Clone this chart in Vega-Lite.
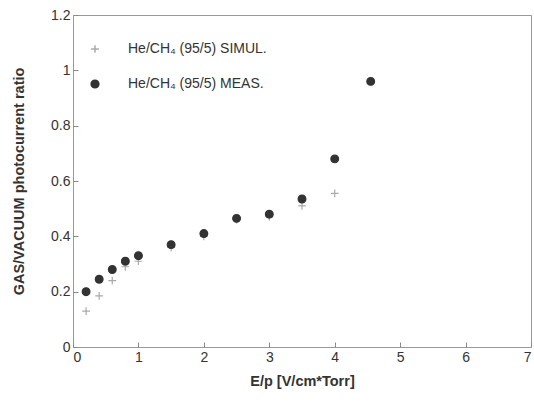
{
  "$schema": "https://vega.github.io/schema/vega-lite/v6.json",
  "width": 458,
  "height": 332,
  "autosize": {"type": "none"},
  "padding": {"left": 73, "top": 15, "right": 3, "bottom": 56},
  "background": "white",
  "config": {
    "font": "Liberation Sans",
    "view": {"stroke": "#999", "strokeWidth": 1},
    "axis": {
      "grid": false,
      "domain": false,
      "tickColor": "#888",
      "tickSize": -5,
      "labelColor": "#333",
      "labelFontSize": 14,
      "titleColor": "#333",
      "titleFontSize": 14.5,
      "titleFontWeight": "bold"
    }
  },
  "data": {
    "values": [
      {"E": 0.2, "ratio": 0.13, "series": "He/CH₄ (95/5) SIMUL."},
      {"E": 0.4, "ratio": 0.185, "series": "He/CH₄ (95/5) SIMUL."},
      {"E": 0.6, "ratio": 0.24, "series": "He/CH₄ (95/5) SIMUL."},
      {"E": 0.8, "ratio": 0.29, "series": "He/CH₄ (95/5) SIMUL."},
      {"E": 1.0, "ratio": 0.31, "series": "He/CH₄ (95/5) SIMUL."},
      {"E": 1.5, "ratio": 0.36, "series": "He/CH₄ (95/5) SIMUL."},
      {"E": 2.0, "ratio": 0.40, "series": "He/CH₄ (95/5) SIMUL."},
      {"E": 2.5, "ratio": 0.46, "series": "He/CH₄ (95/5) SIMUL."},
      {"E": 3.0, "ratio": 0.47, "series": "He/CH₄ (95/5) SIMUL."},
      {"E": 3.5, "ratio": 0.51, "series": "He/CH₄ (95/5) SIMUL."},
      {"E": 4.0, "ratio": 0.555, "series": "He/CH₄ (95/5) SIMUL."},
      {"E": 0.2, "ratio": 0.20, "series": "He/CH₄ (95/5) MEAS."},
      {"E": 0.4, "ratio": 0.245, "series": "He/CH₄ (95/5) MEAS."},
      {"E": 0.6, "ratio": 0.28, "series": "He/CH₄ (95/5) MEAS."},
      {"E": 0.8, "ratio": 0.31, "series": "He/CH₄ (95/5) MEAS."},
      {"E": 1.0, "ratio": 0.33, "series": "He/CH₄ (95/5) MEAS."},
      {"E": 1.5, "ratio": 0.37, "series": "He/CH₄ (95/5) MEAS."},
      {"E": 2.0, "ratio": 0.41, "series": "He/CH₄ (95/5) MEAS."},
      {"E": 2.5, "ratio": 0.465, "series": "He/CH₄ (95/5) MEAS."},
      {"E": 3.0, "ratio": 0.48, "series": "He/CH₄ (95/5) MEAS."},
      {"E": 3.5, "ratio": 0.535, "series": "He/CH₄ (95/5) MEAS."},
      {"E": 4.0, "ratio": 0.68, "series": "He/CH₄ (95/5) MEAS."},
      {"E": 4.55, "ratio": 0.96, "series": "He/CH₄ (95/5) MEAS."}
    ]
  },
  "mark": {"type": "point", "strokeWidth": 1.2, "opacity": 1},
  "encoding": {
    "x": {
      "field": "E", "type": "quantitative",
      "scale": {"domain": [0, 7], "nice": false},
      "axis": {"values": [0, 1, 2, 3, 4, 5, 6, 7], "title": "E/p [V/cm*Torr]", "labelPadding": 8, "titlePadding": 10}
    },
    "y": {
      "field": "ratio", "type": "quantitative",
      "scale": {"domain": [0, 1.2], "nice": false},
      "axis": {"values": [0, 0.2, 0.4, 0.6, 0.8, 1, 1.2], "format": "~g", "title": "GAS/VACUUM photocurrent ratio", "labelPadding": 8, "titlePadding": 24}
    },
    "shape": {
      "field": "series", "type": "nominal",
      "scale": {"domain": ["He/CH₄ (95/5) SIMUL.", "He/CH₄ (95/5) MEAS."], "range": ["M-1,0H1M0,-1V1", "circle"]},
      "legend": {
        "title": null, "orient": "none", "legendX": 15, "legendY": 27,
        "labelFontSize": 14, "labelColor": "#333", "labelOffset": 26,
        "rowPadding": 21, "symbolSize": 60
      }
    },
    "fill": {
      "field": "series", "type": "nominal",
      "scale": {"domain": ["He/CH₄ (95/5) SIMUL.", "He/CH₄ (95/5) MEAS."], "range": ["transparent", "#333"]},
      "legend": null
    },
    "stroke": {
      "field": "series", "type": "nominal",
      "scale": {"domain": ["He/CH₄ (95/5) SIMUL.", "He/CH₄ (95/5) MEAS."], "range": ["#aaa", "#333"]},
      "legend": null
    },
    "size": {"value": 60}
  }
}
